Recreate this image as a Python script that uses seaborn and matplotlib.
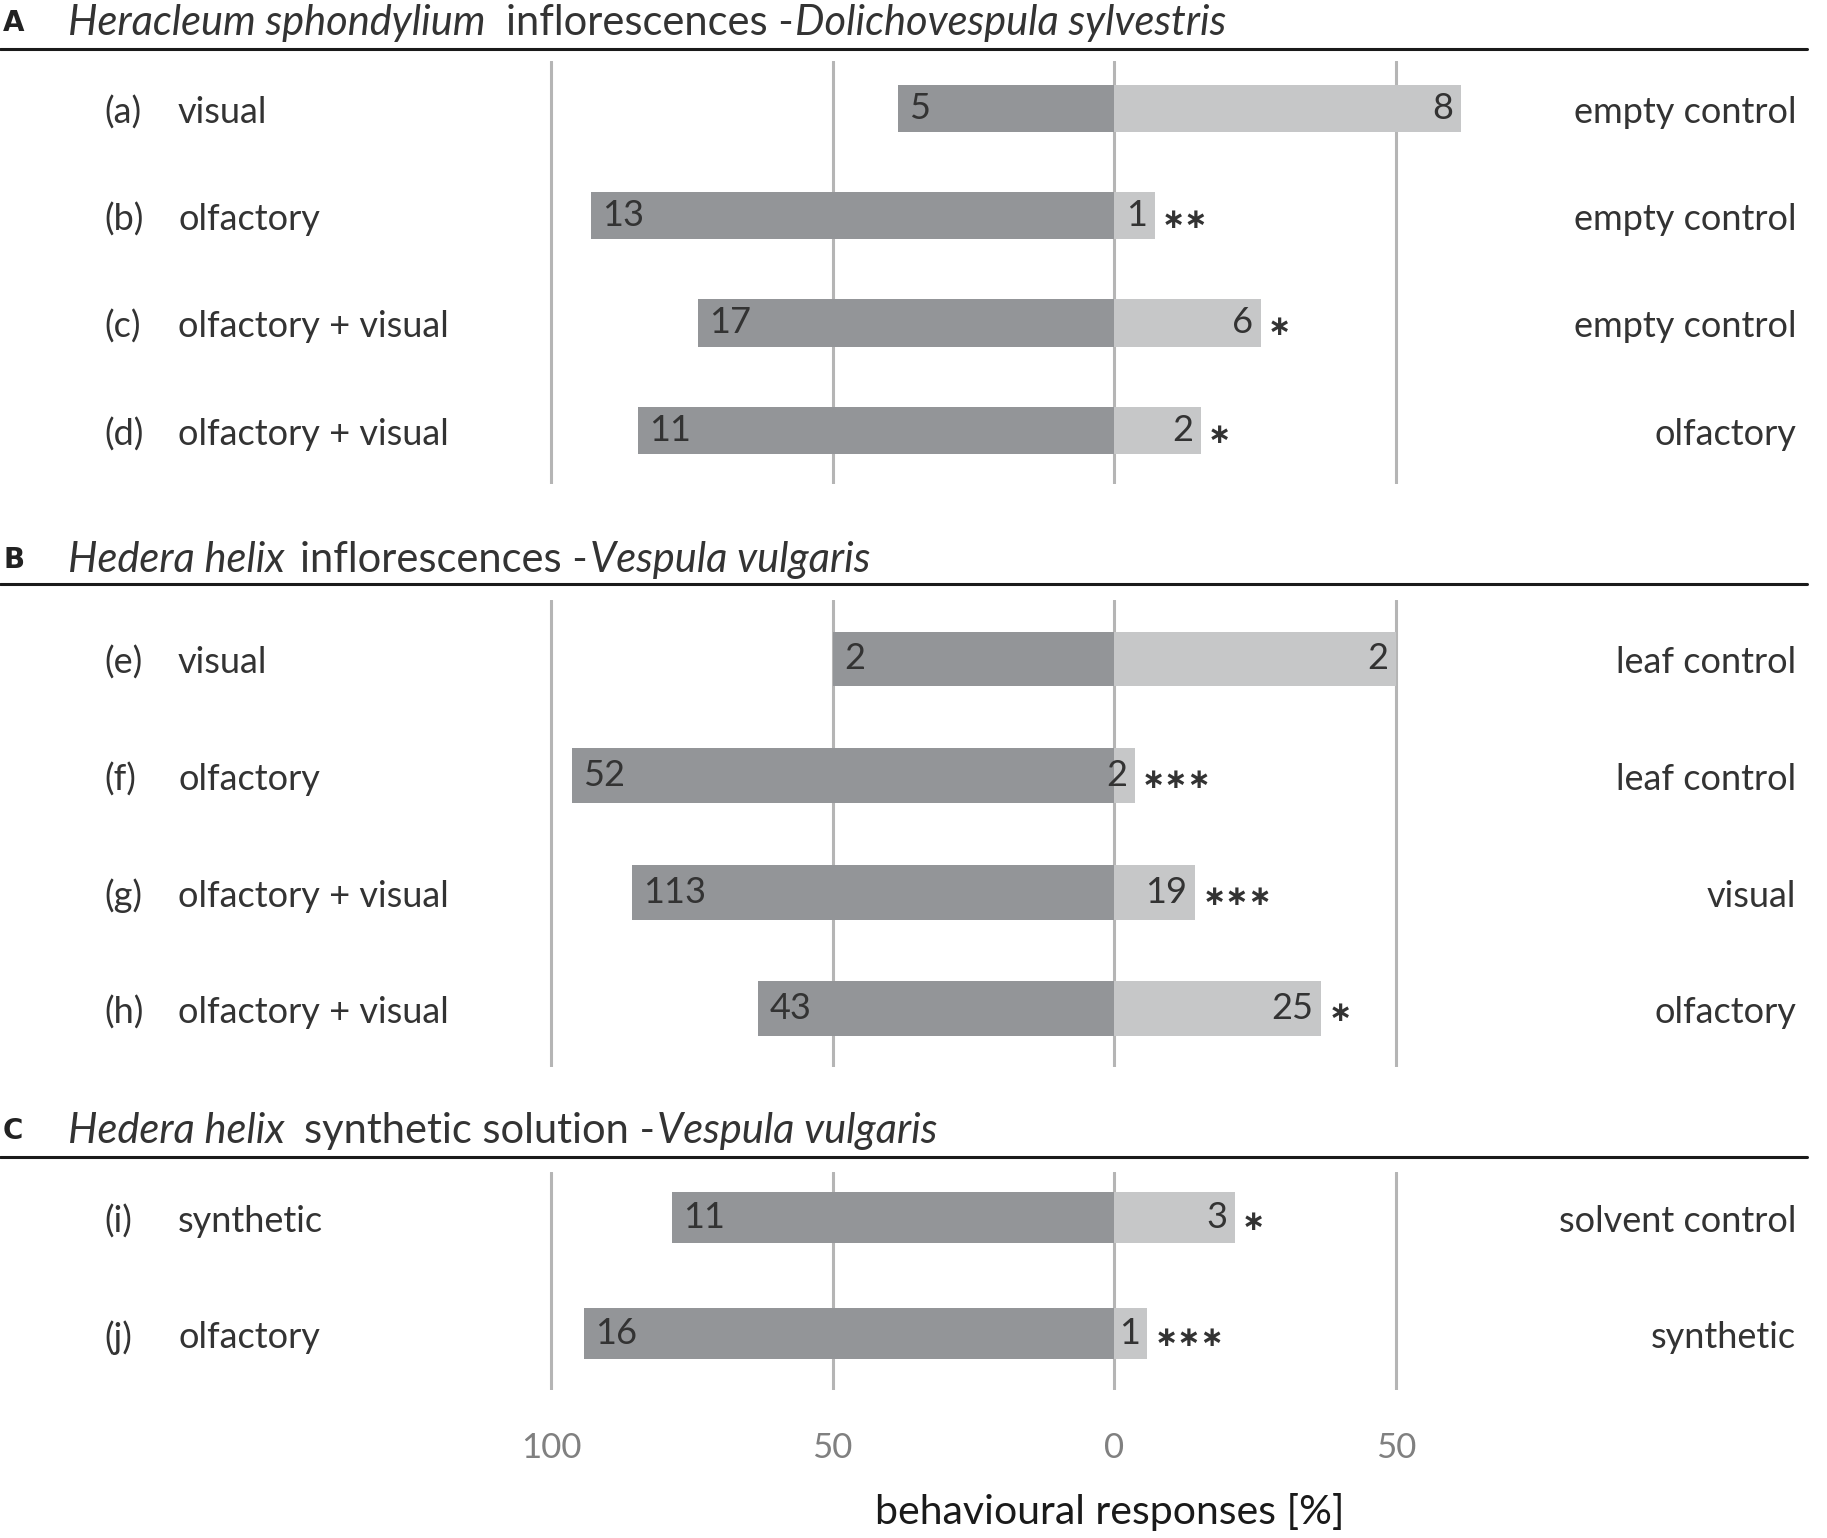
import matplotlib
matplotlib.use("Agg")
import matplotlib.pyplot as plt
import seaborn as sns
import pandas as pd
from matplotlib import font_manager
from matplotlib.lines import Line2D

sns.set_theme(style="white")
avail = {f.name for f in font_manager.fontManager.ttflist}
FONT = "Lato" if "Lato" in avail else "DejaVu Sans"
plt.rcParams["font.family"] = [FONT, "DejaVu Sans"]

# ---------------- data ----------------
panel_letters = ["A", "B", "C"]
title_A = [("Heracleum sphondylium", True), ("inflorescences -", False), ("Dolichovespula sylvestris", True)]
title_B = [("Hedera helix", True), ("inflorescences -", False), ("Vespula vulgaris", True)]
title_C = [("Hedera helix", True), ("synthetic solution -", False), ("Vespula vulgaris", True)]

rows_A = ["(a)", "(b)", "(c)", "(d)"]
tested_A = ["visual", "olfactory", "olfactory + visual", "olfactory + visual"]
control_A = ["empty control", "empty control", "empty control", "olfactory"]
left_A = [5, 13, 17, 11]
right_A = [8, 1, 6, 2]
stars_A = ["", "**", "*", "*"]

rows_B = ["(e)", "(f)", "(g)", "(h)"]
tested_B = ["visual", "olfactory", "olfactory + visual", "olfactory + visual"]
control_B = ["leaf control", "leaf control", "visual", "olfactory"]
left_B = [2, 52, 113, 43]
right_B = [2, 2, 19, 25]
stars_B = ["", "***", "***", "*"]

rows_C = ["(i)", "(j)"]
tested_C = ["synthetic", "olfactory"]
control_C = ["solvent control", "synthetic"]
left_C = [11, 16]
right_C = [3, 1]
stars_C = ["*", "***"]

tick_values = [-100, -50, 0, 50]
tick_labels = ["100", "50", "0", "50"]
x_label = "behavioural responses [%]"

# ---------------- style ----------------
W, H = 1827, 1538
DARK = "#939598"
LIGHT = "#c6c7c8"
GRID = "#b5b5b5"
TXT = "#333333"
TICK = "#808080"
FS = 26

fig = plt.figure(figsize=(W / 100, H / 100), dpi=100)
fig.patch.set_facecolor("white")


def fy(px):
    return 1 - px / H


XLIM = (-197.8, 126.5)

panels = [
    dict(letter="A", title=title_A, gaps=[20, 2], rows=rows_A, tested=tested_A, control=control_A,
         left=left_A, right=right_A, stars=stars_A, top=61, bottom=484, ylim=(3.50, -0.44),
         bw=0.44, title_y=23, line_y=49),
    dict(letter="B", title=title_B, gaps=[15, 2], rows=rows_B, tested=tested_B, control=control_B,
         left=left_B, right=right_B, stars=stars_B, top=600, bottom=1067, ylim=(3.50, -0.506),
         bw=0.47, title_y=560, line_y=584),
    dict(letter="C", title=title_C, gaps=[19, 2], rows=rows_C, tested=tested_C, control=control_C,
         left=left_C, right=right_C, stars=stars_C, top=1172, bottom=1390, ylim=(1.49, -0.39),
         bw=0.44, title_y=1131, line_y=1157),
]

renderer = fig.canvas.get_renderer()
for i, p in enumerate(panels):
    ax = fig.add_axes([0, fy(p["bottom"]), 1, (p["bottom"] - p["top"]) / H])
    tot = [l + r for l, r in zip(p["left"], p["right"])]
    df = pd.DataFrame({
        "row": p["rows"],
        "neg": [-100 * l / t for l, t in zip(p["left"], tot)],
        "pos": [100 * r / t for r, t in zip(p["right"], tot)],
    })
    sns.barplot(data=df, x="neg", y="row", order=p["rows"], color=DARK, saturation=1,
                width=p["bw"], linewidth=0, errorbar=None, ax=ax, zorder=2)
    sns.barplot(data=df, x="pos", y="row", order=p["rows"], color=LIGHT, saturation=1,
                width=p["bw"], linewidth=0, errorbar=None, ax=ax, zorder=2)
    ax.set_xlim(*XLIM)
    ax.set_ylim(*p["ylim"])
    ax.set_xticks(tick_values)
    ax.set_xticklabels(tick_labels)
    ax.grid(axis="x", color=GRID, linewidth=2.2)
    ax.grid(axis="y", visible=False)
    ax.set_axisbelow(True)
    for s in ax.spines.values():
        s.set_visible(False)
    ax.set_yticks([])
    ax.set_ylabel("")
    ax.set_xlabel("")
    ax.patch.set_alpha(0)
    if i < 2:
        ax.tick_params(axis="x", length=0, labelbottom=False)
    else:
        ax.tick_params(axis="x", length=0, pad=30, labelsize=25, labelcolor=TICK)

    # label offset (a little below bar centre, as in the reference)
    dy = 4 * (p["ylim"][0] - p["ylim"][1]) / (p["bottom"] - p["top"])
    for j, row in enumerate(p["rows"]):
        ax.text(-179.2, j + dy, row, ha="left", va="center", fontsize=FS, color=TXT)
        ax.text(-166.2, j + dy, p["tested"][j], ha="left", va="center", fontsize=FS, color=TXT)
        ax.text(121.0, j + dy, p["control"][j], ha="right", va="center", fontsize=FS, color=TXT)
        neg = df["neg"].iloc[j]
        pos = df["pos"].iloc[j]
        ax.text(neg + 2.0, j, str(p["left"][j]), ha="left", va="center", fontsize=FS, color=TXT)
        ax.text(pos - 1.4, j, str(p["right"][j]), ha="right", va="center", fontsize=FS, color=TXT)
        if p["stars"][j]:
            ax.text(pos + 1.2, j + 0.04, "\u2217" * len(p["stars"][j]), ha="left", va="center",
                    fontsize=20, fontweight="bold", color=TXT, family="DejaVu Sans")

    # panel header
    fig.text(3 / W, fy(p["title_y"]), p["letter"], ha="left", va="center", fontsize=20,
             fontweight="bold", color="#222222", family="DejaVu Sans")
    x = 68
    for k, (txt, it) in enumerate(p["title"]):
        t = fig.text(x / W, fy(p["title_y"]), txt, ha="left", va="center", fontsize=30,
                     style="italic" if it else "normal", color=TXT)
        bb = t.get_window_extent(renderer)
        x = bb.x1 + (p["gaps"][k] if k < len(p["gaps"]) else 0)
    fig.add_artist(Line2D([0, 1807 / W], [fy(p["line_y"]), fy(p["line_y"])],
                          transform=fig.transFigure, color="#1a1a1a", linewidth=2.2))

fig.text(1110 / W, fy(1512), x_label, ha="center", va="center", fontsize=29.5, color="#1a1a1a")

fig.savefig("out.png", dpi=100, facecolor="white")
